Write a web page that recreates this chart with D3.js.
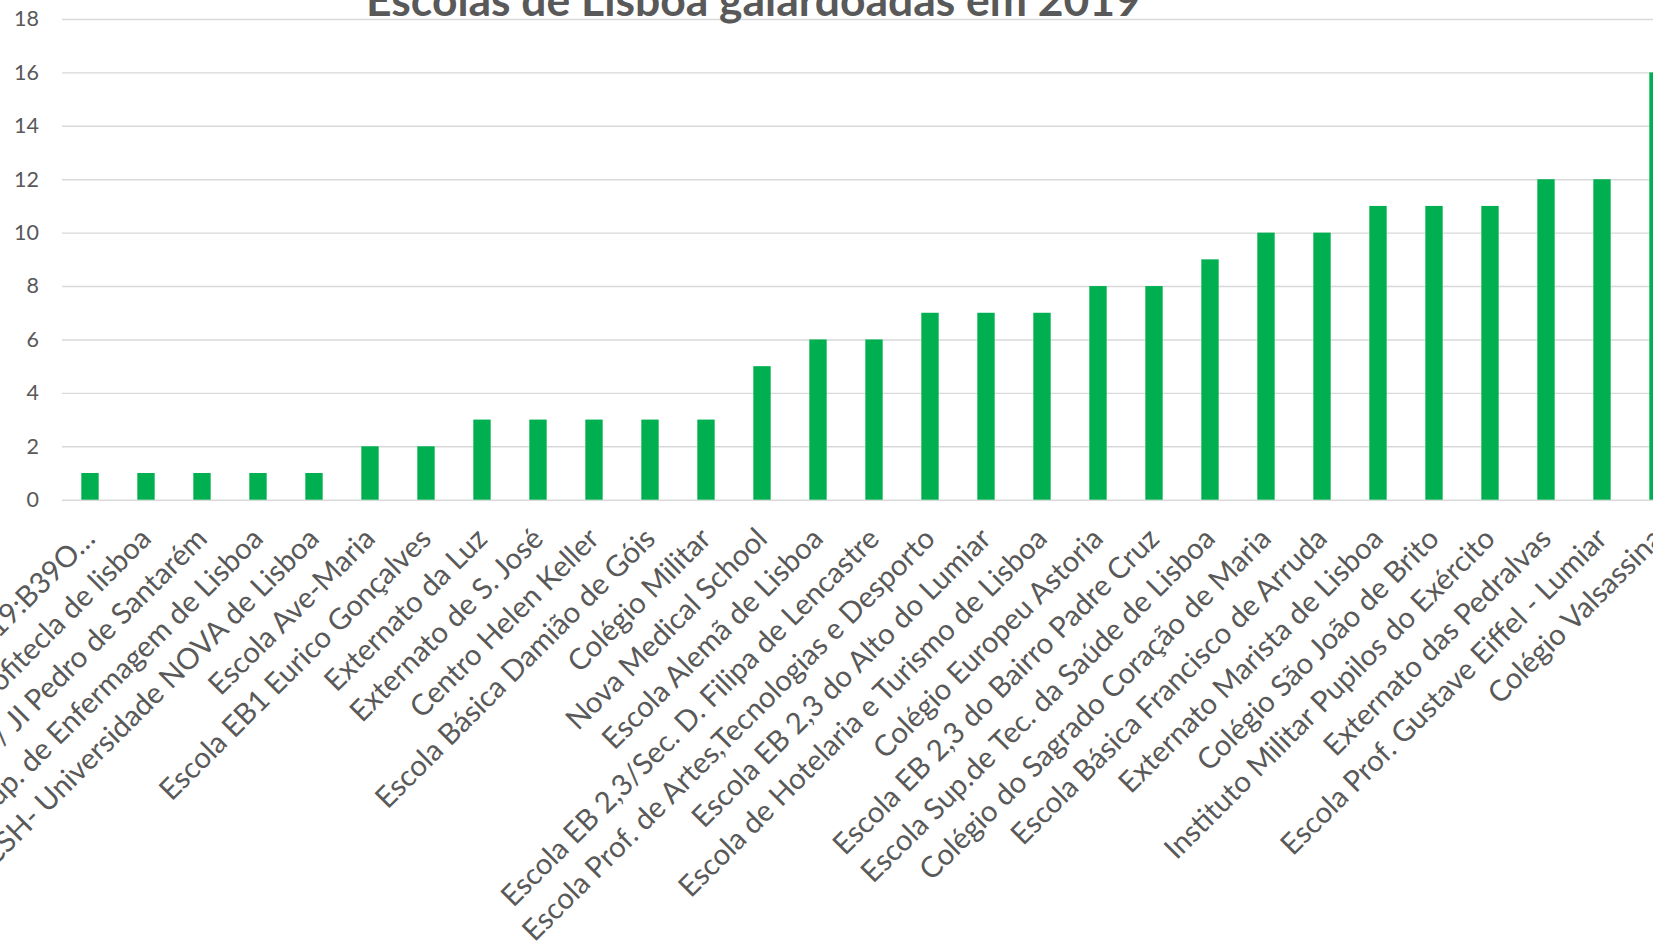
<!DOCTYPE html>
<html><head><meta charset="utf-8">
<script src="https://cdn.jsdelivr.net/npm/d3@7"></script>
<style>html,body{margin:0;padding:0;background:#fff;overflow:hidden}</style>
</head><body>
<svg id="chart" width="1653" height="947"></svg>
<script>
const chartTitle = "Escolas de Lisboa galardoadas em 2019";
const categories = [
  "A19:B39O…",
  "Profitecla de lisboa",
  "EB1 / JI Pedro de Santarém",
  "Escola Sup. de Enfermagem de Lisboa",
  "FCSH- Universidade NOVA de Lisboa",
  "Escola Ave-Maria",
  "Escola EB1 Eurico Gonçalves",
  "Externato da Luz",
  "Externato de S. José",
  "Centro Helen Keller",
  "Escola Básica Damião de Góis",
  "Colégio Militar",
  "Nova Medical School",
  "Escola Alemã de Lisboa",
  "Escola EB 2,3/Sec. D. Filipa de Lencastre",
  "Escola Prof. de Artes,Tecnologias e Desporto",
  "Escola EB 2,3 do Alto do Lumiar",
  "Escola de Hotelaria e Turismo de Lisboa",
  "Colégio Europeu Astoria",
  "Escola EB 2,3 do Bairro Padre Cruz",
  "Escola Sup.de Tec. da Saúde de Lisboa",
  "Colégio do Sagrado Coração de Maria",
  "Escola Básica Francisco de Arruda",
  "Externato Marista de Lisboa",
  "Colégio São João de Brito",
  "Instituto Militar Pupilos do Exército",
  "Externato das Pedralvas",
  "Escola Prof. Gustave Eiffel - Lumiar",
  "Colégio Valsassina"
];
const values = [1,1,1,1,1,2,2,3,3,3,3,3,5,6,6,7,7,7,8,8,9,10,10,11,11,11,12,12,16];
const yTicks = [0,2,4,6,8,10,12,14,16,18];

const W = 1653, H = 947;
const FONT = "Lato, Carlito, 'Open Sans', sans-serif";
const TEXT = "#595959";
const svg = d3.select("#chart");
svg.append("rect").attr("width", W).attr("height", H).attr("fill", "#fff");

function measure(str, size, weight) {
  const t = svg.append("text").attr("font-family", FONT).attr("font-size", size)
    .attr("font-weight", weight || "normal").text(str);
  const w = t.node().getComputedTextLength();
  t.remove();
  return w;
}

const x = d3.scaleBand().domain(categories).range([62, 1686])
  .paddingInner(0.69).paddingOuter(0.345);
const y = d3.scaleLinear().domain([0, 18]).range([499.7, 19]);

// gridlines + tick labels
const tickFs = 21.5;
const gAxis = svg.append("g").attr("transform", "translate(62,0)")
  .call(d3.axisLeft(y).tickValues(yTicks).tickSize(-(W - 62 + 40)).tickPadding(23));
gAxis.select(".domain").remove();
gAxis.selectAll(".tick line").attr("stroke", "#d9d9d9").attr("stroke-width", 1.4);
gAxis.selectAll(".tick text").attr("font-family", FONT).attr("font-size", tickFs)
  .attr("fill", TEXT);

// bars
svg.append("g").selectAll("rect").data(values).join("rect")
  .attr("x", (d, i) => x(categories[i]))
  .attr("width", x.bandwidth())
  .attr("y", d => y(d))
  .attr("height", d => y(0) - y(d))
  .attr("fill", "#00b050");

// category labels
const labFs = 32 * 370 / measure("Escola EB1 Eurico Gonçalves", 32);
const off = 0.7071 * 0.5 * labFs;
svg.append("g").selectAll("text").data(categories).join("text")
  .attr("transform", d => `translate(${x(d) + x.bandwidth() / 2 + off - 3.5},${y(0) + 30.5 + off}) rotate(-45)`)
  .attr("text-anchor", "end")
  .attr("font-family", FONT).attr("font-size", labFs).attr("fill", TEXT)
  .text(d => d);

// title
const titleFs = 40 * 775 / measure(chartTitle, 40, "bold");
svg.append("text").attr("x", 753.5).attr("y", 16)
  .attr("text-anchor", "middle").attr("font-family", FONT).attr("font-weight", "bold")
  .attr("font-size", titleFs).attr("fill", TEXT).text(chartTitle);
</script>
</body></html>
